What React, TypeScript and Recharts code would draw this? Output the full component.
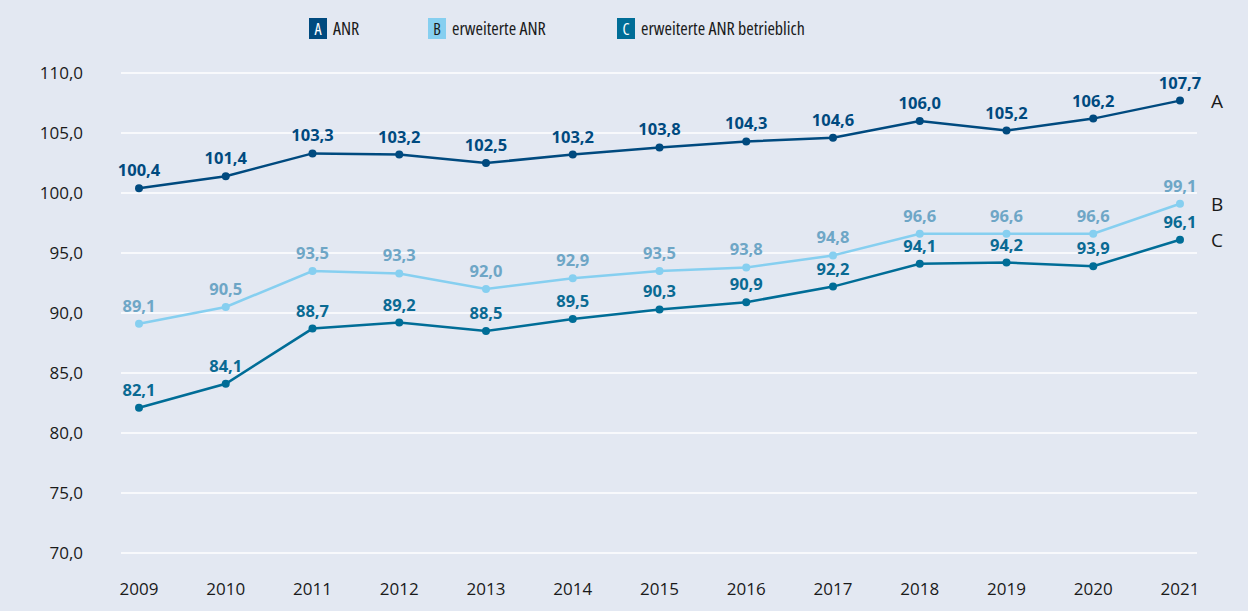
import React from 'react';
import { LineChart, Line, XAxis, YAxis, CartesianGrid, Legend, LabelList } from 'recharts';

const years = ['2009', '2010', '2011', '2012', '2013', '2014', '2015', '2016', '2017', '2018', '2019', '2020', '2021'];
const anr = [100.4, 101.4, 103.3, 103.2, 102.5, 103.2, 103.8, 104.3, 104.6, 106.0, 105.2, 106.2, 107.7];
const erweitert = [89.1, 90.5, 93.5, 93.3, 92.0, 92.9, 93.5, 93.8, 94.8, 96.6, 96.6, 96.6, 99.1];
const betrieblich = [82.1, 84.1, 88.7, 89.2, 88.5, 89.5, 90.3, 90.9, 92.2, 94.1, 94.2, 93.9, 96.1];
const yTicks = [70, 75, 80, 85, 90, 95, 100, 105, 110];

const data = years.map((year, i) => ({
  year,
  a: anr[i],
  b: erweitert[i],
  c: betrieblich[i],
}));

const series = [
  { key: 'a', letter: 'A', name: 'ANR', line: '#004a7f', label: '#004a7f', box: '#004a7f', boxText: '#ffffff' },
  { key: 'b', letter: 'B', name: 'erweiterte ANR', line: '#86cff0', label: '#6ea6c6', box: '#86cff0', boxText: '#1a1a1a' },
  { key: 'c', letter: 'C', name: 'erweiterte ANR betrieblich', line: '#006d97', label: '#0a6a93', box: '#006d97', boxText: '#ffffff' },
];

const font = '"Open Sans", sans-serif';
const fmt = (v: number) => v.toFixed(1).replace('.', ',');

// legend drawn by hand, zero height so the plot keeps its place
const LegendContent = () => {
  const pos = [309, 428, 617];
  return (
    <div style={{ position: 'relative', height: 0, width: 1248, overflow: 'visible' }}>
      {series.map((s, i) => (
        <div key={s.key} style={{ position: 'absolute', left: pos[i], top: 16, display: 'flex', alignItems: 'center', fontFamily: font, whiteSpace: 'nowrap' }}>
          <span style={{ display: 'inline-block', width: 18, height: 21, lineHeight: '22px', textAlign: 'center', background: s.box, color: s.boxText, fontSize: 16, fontStretch: '85%' }}>{s.letter}</span>
          <span style={{ marginLeft: 6, fontSize: 18, color: '#1a1a1a', fontStretch: '76%' }}>{s.name}</span>
        </div>
      ))}
    </div>
  );
};

const makeEndLabel = (letter: string) => (props: any) => {
  const { x, y, index } = props;
  if (index !== years.length - 1) return null;
  return (
    <text x={x + 31} y={y + 7} fontSize={19} fill="#1a1a1a" fontFamily={font}>{letter}</text>
  );
};

export default function App() {
  return (
    <div style={{ position: 'absolute', left: 0, top: 0, width: 1248, height: 611, background: '#e3e8f2' }}>
      <LineChart width={1248} height={611} data={data} margin={{ top: 73, right: 51, bottom: 28, left: 0 }}>
        <CartesianGrid vertical={false} stroke="#ffffff" strokeWidth={1.5} />
        <XAxis
          dataKey="year"
          axisLine={false}
          tickLine={false}
          height={30}
          padding={{ left: 18, right: 17 }}
          tick={{ fill: '#1a1a1a', fontSize: 17, fontFamily: font }}
          tickMargin={24}
          interval={0}
        />
        <YAxis
          domain={[70, 110]}
          ticks={yTicks}
          width={121}
          axisLine={false}
          tickLine={false}
          tickMargin={32}
          tickFormatter={fmt}
          tick={{ fill: '#1a1a1a', fontSize: 17, fontFamily: font }}
        />
        <Legend verticalAlign="top" content={LegendContent} wrapperStyle={{ top: 0, left: 0, height: 0 }} />
        {series.map((s) => (
          <Line
            key={s.key}
            dataKey={s.key}
            name={s.name}
            stroke={s.line}
            strokeWidth={2.5}
            dot={{ r: 4, fill: s.line, stroke: s.line, strokeWidth: 0 }}
            type="linear"
            isAnimationActive={false}
          >
            <LabelList
              dataKey={s.key}
              position="top"
              offset={12}
              formatter={(v: any) => fmt(Number(v))}
              style={{ fill: s.label, fontSize: 16.5, fontWeight: 700, fontFamily: font }}
            />
            <LabelList dataKey={s.key} content={makeEndLabel(s.letter)} />
          </Line>
        ))}
      </LineChart>
    </div>
  );
}
